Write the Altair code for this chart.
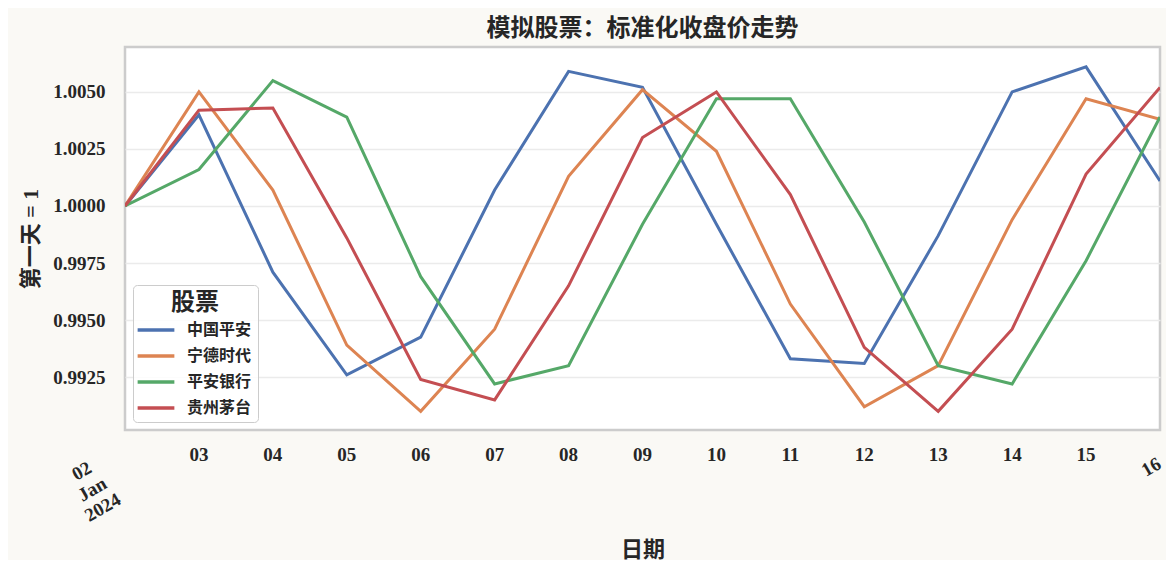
import pandas as pd
import altair as alt

# 交易日（2024-01-02 ~ 2024-01-16）
dates = [f"2024-01-{d:02d}" for d in range(2, 17)]
x_labels = ["02\nJan\n2024", "03", "04", "05", "06", "07", "08", "09",
            "10", "11", "12", "13", "14", "15", "16"]

stocks = ["中国平安", "宁德时代", "平安银行", "贵州茅台"]
colors = ["#4c72b0", "#dd8452", "#55a868", "#c44e52"]

# 标准化收盘价（第一天 = 1）
pingan = [1.0000, 1.0040, 0.9971, 0.9926, 0.99425, 1.0007, 1.0059, 1.0052,
          0.9992, 0.9933, 0.9931, 0.9987, 1.0050, 1.0061, 1.0011]
ningde = [1.0000, 1.0050, 1.0007, 0.9939, 0.9910, 0.9946, 1.0013, 1.0051,
          1.0024, 0.9957, 0.9912, 0.9930, 0.9994, 1.0047, 1.0038]
yinhang = [1.0000, 1.0016, 1.0055, 1.0039, 0.9969, 0.9922, 0.9930, 0.9992,
           1.0047, 1.0047, 0.9993, 0.9930, 0.9922, 0.9976, 1.0039]
maotai = [1.0000, 1.0042, 1.0043, 0.9986, 0.9924, 0.9915, 0.9965, 1.0030,
          1.0050, 1.0005, 0.9938, 0.9910, 0.9946, 1.0014, 1.0052]

y_ticks = [0.9925, 0.9950, 0.9975, 1.0000, 1.0025, 1.0050]
y_domain = [0.99018, 1.00697]

FONT = "Liberation Serif, Noto Sans CJK SC"

series = dict(zip(stocks, [pingan, ningde, yinhang, maotai]))
df = pd.DataFrame([
    {"date": d, "stock": s, "value": v}
    for s, vals in series.items() for d, v in zip(dates, vals)
])
ticks_df = pd.DataFrame({"date": dates, "label": x_labels})

x_enc = alt.X("date:T", scale=alt.Scale(type="utc", nice=False),
              axis=alt.Axis(labels=False, ticks=False, grid=False, domain=False,
                            title="日期", titleFontSize=22, titleY=119,
                            titleBaseline="middle"))

lines = alt.Chart(df).mark_line(strokeWidth=3, clip=True).encode(
    x=x_enc,
    y=alt.Y("value:Q", scale=alt.Scale(domain=y_domain, nice=False, zero=False),
            axis=alt.Axis(values=y_ticks, format=".4f", ticks=False, domain=False,
                          grid=True, gridColor="#ebebeb", gridWidth=1.5,
                          labelPadding=20, labelFontSize=19,
                          title="第一天 = 1", titleFontSize=22, titlePadding=10)),
    color=alt.Color("stock:N", sort=stocks,
                    scale=alt.Scale(domain=stocks, range=colors),
                    legend=alt.Legend(orient="bottom-left", offset=8, title="股票",
                                      titleFontSize=24, titleAnchor="middle",
                                      titlePadding=1,
                                      labelFontSize=16,
                                      symbolType="M-1.5,0L1.5,0",
                                      symbolStrokeWidth=3.5, symbolSize=600,
                                      symbolOffset=3,
                                      fillColor="rgba(255,255,255,0.85)",
                                      strokeColor="#cccccc", cornerRadius=4,
                                      padding=6, rowPadding=4, labelOffset=17)),
    detail="stock:N",
)

tick_text = alt.Chart(ticks_df)
mid_labels = tick_text.transform_filter(
    "datum.label != '16' && indexof(datum.label, 'Jan') < 0"
).mark_text(fontSize=19, baseline="middle", align="center").encode(
    x="date:T", y=alt.value(408), text="label:N")

first_label = tick_text.transform_filter(
    "indexof(datum.label, 'Jan') >= 0"
).mark_text(fontSize=19, baseline="middle", align="center", angle=330,
            lineBreak="\n", dx=-58, dy=14).encode(
    x="date:T", y=alt.value(383), text="label:N")

last_label = tick_text.transform_filter("datum.label == '16'").mark_text(
    fontSize=19, baseline="middle", align="center", angle=330, dx=-10
).encode(x="date:T", y=alt.value(415), text="label:N")

chart = alt.layer(lines, mid_labels, first_label, last_label).properties(
    width=1035, height=383,
    title=alt.TitleParams("模拟股票：标准化收盘价走势", fontSize=24, offset=6,
                          anchor="middle"),
    autosize=alt.AutoSizeParams(type="none"),
    padding={"left": 117, "top": 39, "right": 6, "bottom": 130},
).configure(
    background="#faf9f5", font=FONT,
).configure_view(
    fill="white", stroke="#cccccc", strokeWidth=2.5,
).configure_axis(
    labelFont=FONT, titleFont=FONT, labelColor="#262626", titleColor="#262626",
    labelFontWeight="bold", titleFontWeight="bold",
).configure_legend(
    labelFont=FONT, titleFont=FONT, labelFontWeight="bold",
    titleFontWeight="bold", labelColor="#262626", titleColor="#262626",
).configure_title(
    font=FONT, fontWeight="bold", color="#262626",
).configure_text(
    font=FONT, fontWeight="bold", color="#262626",
)

chart.save("out.html", embed_options={"renderer": "svg", "actions": False})
